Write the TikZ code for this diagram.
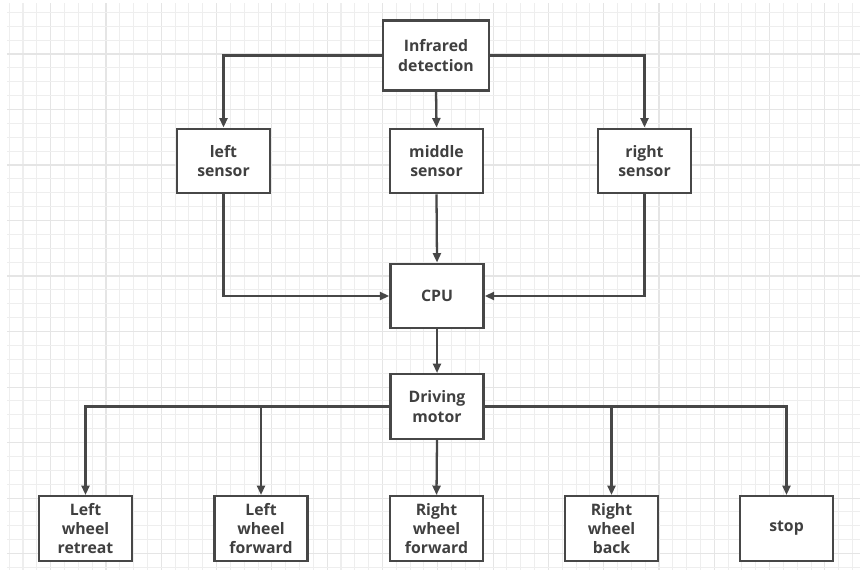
\documentclass[tikz,border=0pt]{standalone}
\usepackage{fontspec}
\setmainfont{Open Sans}
\usetikzlibrary{arrows.meta}
\definecolor{boxline}{HTML}{474747}
\definecolor{gridminor}{HTML}{EEEEEE}
\definecolor{gridmajor}{HTML}{E5E5E5}

\begin{document}
\begin{tikzpicture}[x=0.02cm,y=-0.02cm,
    block/.style={draw=boxline,line width=1.4pt,fill=white,minimum width=1.86cm,
                  minimum height=1.29cm,align=center,text=black!75,
                  font=\fontsize{9}{10.9}\selectfont\bfseries},
    stream/.style={-{Triangle[length=0.19cm,width=0.16cm]},draw=boxline,line width=1.3pt}]
    \useasboundingbox (0,0) rectangle (865,574);
    %grid
    \foreach \k in {0,...,61}{
        \pgfmathsetmacro{\gx}{9.2+13.825*\k}
        \pgfmathtruncatemacro{\gm}{mod(\k,4)}
        \ifnum\gm=3 \draw[gridmajor,line width=0.6pt] (\gx,3) -- (\gx,570);
        \else \draw[gridminor,line width=0.6pt] (\gx,3) -- (\gx,570); \fi
    }
    \foreach \j in {0,...,40}{
        \pgfmathsetmacro{\gy}{12.4+13.875*\j}
        \pgfmathtruncatemacro{\gm}{mod(\j,4)}
        \ifnum\gm=3 \draw[gridmajor,line width=0.6pt] (7,\gy) -- (860,\gy);
        \else \draw[gridminor,line width=0.6pt] (7,\gy) -- (860,\gy); \fi
    }
    %detection
    \node[block,minimum width=2.12cm,minimum height=1.4cm] (ir) at (436,55.5) {Infrared\\detection};
    %sensors
    \node[block] (ls) at (223.5,161) {left\\sensor};
    \node[block] (ms) at (436.5,161) {middle\\sensor};
    \node[block] (rs) at (644.5,161) {right\\sensor};
    %cpu and motor
    \node[block] (cpu) at (437,296) {CPU};
    \node[block] (dm) at (437,406.5) {Driving\\motor};
    %outputs
    \node[block] (lwr) at (85.5,528.5) {Left\\wheel\\retreat};
    \node[block] (lwf) at (261,528.5) {Left\\wheel\\forward};
    \node[block] (rwf) at (436.5,528.5) {Right\\wheel\\forward};
    \node[block] (rwb) at (611.5,528.5) {Right\\wheel\\back};
    \node[block] (stp) at (786.5,528.5) {stop};
    %connections
    \draw[stream] (ir.west) -| (ls.north);
    \draw[stream] (ir.south) -- (ms.north);
    \draw[stream] (ir.east) -| (rs.north);
    \draw[stream] (ls.south) |- (cpu.west);
    \draw[stream] (ms.south) -- (cpu.north);
    \draw[stream] (rs.south) |- (cpu.east);
    \draw[stream] (cpu.south) -- (dm.north);
    \draw[stream] (dm.west) -| (lwr.north);
    \draw[stream] (dm.west) -| (lwf.north);
    \draw[stream] (dm.south) -- (rwf.north);
    \draw[stream] (dm.east) -| (rwb.north);
    \draw[stream] (dm.east) -| (stp.north);
\end{tikzpicture}
\end{document}
